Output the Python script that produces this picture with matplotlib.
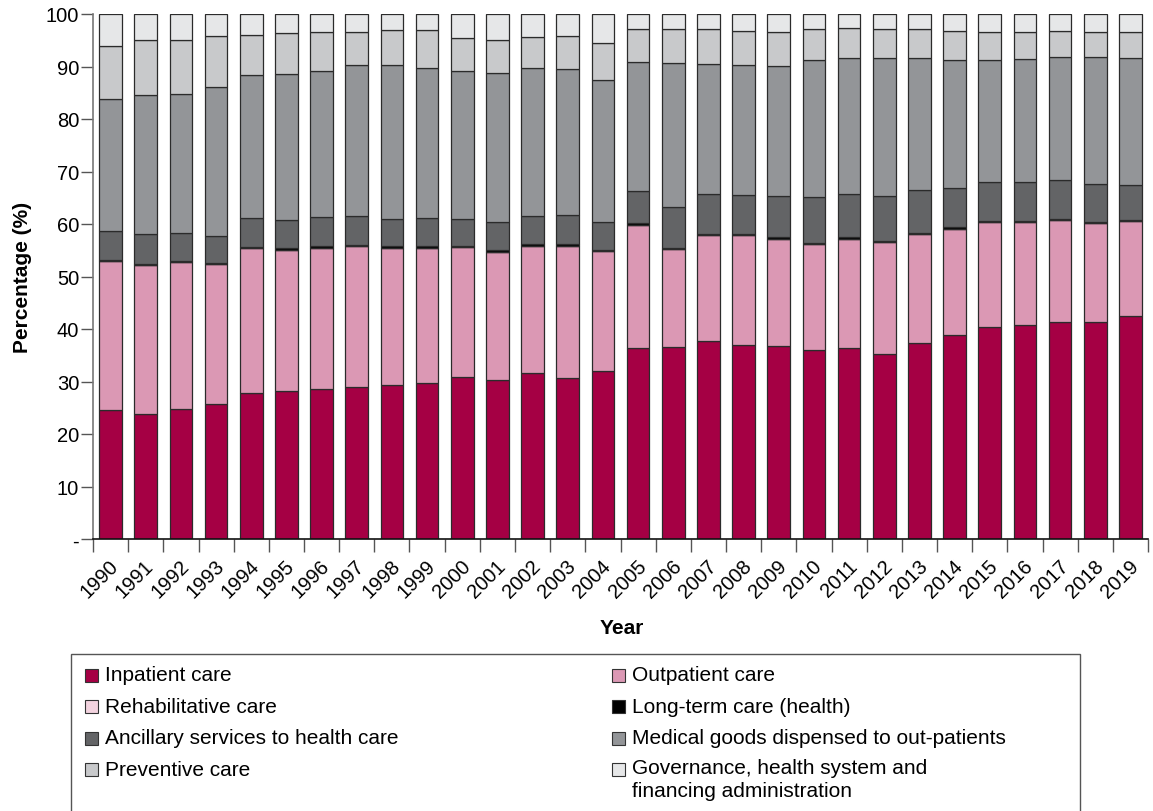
import numpy as np
import matplotlib
matplotlib.use("Agg")
import matplotlib.pyplot as plt
import matplotlib.transforms as mtransforms
from matplotlib.patches import Rectangle
from matplotlib.ticker import FixedLocator, NullFormatter

plt.rcParams['font.family'] = ['Liberation Sans', 'DejaVu Sans']

years = [str(y) for y in range(1990, 2020)]

inpatient = [24.5, 23.8, 24.8, 25.8, 27.9, 28.1, 28.5, 29.0, 29.4, 29.7,
             30.9, 30.3, 31.7, 30.7, 32.0, 36.4, 36.5, 37.7, 36.9, 36.8,
             36.0, 36.4, 35.3, 37.3, 38.9, 40.4, 40.7, 41.3, 41.3, 42.5]
outpatient = [28.5, 28.4, 28.0, 26.6, 27.6, 27.0, 27.0, 26.8, 26.0, 25.7,
              24.8, 24.4, 24.1, 25.2, 22.8, 23.5, 18.8, 20.2, 21.0, 20.4,
              20.2, 20.8, 21.2, 20.8, 20.2, 20.0, 19.7, 19.4, 18.9, 18.1]
rehab = [0.0] * 30
longterm = [0.2, 0.2, 0.2, 0.2, 0.2, 0.3, 0.3, 0.2, 0.4, 0.4,
            0.2, 0.4, 0.3, 0.3, 0.3, 0.2, 0.2, 0.2, 0.2, 0.3,
            0.2, 0.3, 0.2, 0.2, 0.3, 0.2, 0.2, 0.2, 0.2, 0.1]
ancillary = [5.5, 5.7, 5.3, 5.1, 5.4, 5.3, 5.5, 5.5, 5.1, 5.3,
             5.0, 5.2, 5.4, 5.5, 5.3, 6.1, 7.7, 7.6, 7.4, 7.8,
             8.7, 8.3, 8.6, 8.1, 7.5, 7.4, 7.4, 7.4, 7.2, 6.7]
medical = [25.2, 26.5, 26.5, 28.4, 27.3, 27.9, 27.9, 28.8, 29.4, 28.6,
           28.2, 28.4, 28.2, 27.9, 27.1, 24.6, 27.5, 24.8, 24.7, 24.8,
           26.1, 25.8, 26.3, 25.3, 24.3, 23.2, 23.4, 23.5, 24.2, 24.3]
preventive = [10.1, 10.4, 10.2, 9.8, 7.6, 7.7, 7.3, 6.3, 6.6, 7.2,
              6.4, 6.4, 5.9, 6.3, 7.0, 6.3, 6.4, 6.7, 6.6, 6.5,
              6.0, 5.8, 5.5, 5.4, 5.6, 5.3, 5.1, 4.9, 4.8, 4.8]
governance = [6.0, 5.0, 5.0, 4.1, 4.0, 3.7, 3.5, 3.4, 3.1, 3.1,
              4.5, 4.9, 4.4, 4.1, 5.5, 2.9, 2.9, 2.8, 3.2, 3.4,
              2.8, 2.6, 2.9, 2.9, 3.2, 3.5, 3.5, 3.3, 3.4, 3.5]

labels = ['Inpatient care', 'Outpatient care', 'Rehabilitative care',
          'Long-term care (health)', 'Ancillary services to health care',
          'Medical goods dispensed to out-patients', 'Preventive care',
          'Governance, health system and\nfinancing administration']
colors = ['#A50044', '#DB98B4', '#F3D3DF', '#000000', '#636466',
          '#939598', '#C8C9CB', '#E6E7E8']
series = [inpatient, outpatient, rehab, longterm, ancillary,
          medical, preventive, governance]

fig = plt.figure(figsize=(11.53, 8.12), dpi=100)
W, H = 1153, 812
ax = fig.add_axes([93 / W, 1 - 540 / H, (1148 - 93) / W, (540 - 15) / H])

x = np.arange(len(years))
bottom = np.zeros(len(years))
for vals, col in zip(series, colors):
    ax.bar(x, vals, width=0.64, bottom=bottom, color=col,
           edgecolor='#2b2b2b', linewidth=0.9, zorder=2)
    bottom += np.array(vals)

ax.set_xlim(-0.5, len(years) - 0.5)
ax.set_ylim(0, 100)

# y axis
ax.set_yticks(np.arange(0, 101, 10))
ax.set_yticklabels(['-'] + [str(v) for v in range(10, 101, 10)], fontsize=14.5)
ax.tick_params(axis='y', length=9, width=1, color='#555555', pad=1)

# x axis: ticks between bars, labels under bar centres
ax.set_xticks(x)
ax.set_xticklabels(years, fontsize=14.5, rotation=45, ha='right',
                   va='center', rotation_mode='anchor')
ax.tick_params(axis='x', which='major', length=0, pad=17)
ax.xaxis.set_minor_locator(FixedLocator(np.arange(-0.5, len(years), 1.0)))
ax.xaxis.set_minor_formatter(NullFormatter())
ax.tick_params(axis='x', which='minor', length=9, width=1, color='#555555')
shift = mtransforms.ScaledTranslation(5 / 100, 0, fig.dpi_scale_trans)
for lab in ax.get_xticklabels():
    lab.set_transform(lab.get_transform() + shift)

ax.spines['top'].set_visible(False)
ax.spines['right'].set_visible(False)
ax.spines['left'].set_color('#777777')
ax.spines['left'].set_linewidth(1.2)
ax.spines['bottom'].set_color('#111111')
ax.spines['bottom'].set_linewidth(1.2)

ax.set_ylabel('Percentage (%)', fontsize=15, fontweight='bold')
ax.yaxis.set_label_coords(-61 / (1148 - 93), 0.5)
fig.text(622 / W, 1 - 628 / H, 'Year', fontsize=15, fontweight='bold',
         ha='center', va='center')

# legend box drawn by hand, two columns
fig.patches.append(Rectangle((71 / W, -0.01), (1080 - 71) / W, 1 - 655 / H + 0.01,
                             transform=fig.transFigure, fill=False,
                             edgecolor='#555555', linewidth=1.0))
col_x = [85, 612]
row_y = [676, 707.5, 739, 770.5]
order = [0, 2, 4, 6, 1, 3, 5, 7]
for k, idx in enumerate(order):
    cx = col_x[k // 4]
    cy = row_y[k % 4]
    fig.patches.append(Rectangle((cx / W, 1 - (cy + 6.5) / H), 13 / W, 13 / H,
                                 transform=fig.transFigure,
                                 facecolor=colors[idx], edgecolor='#333333',
                                 linewidth=0.8))
    if '\n' in labels[idx]:
        fig.text((cx + 20) / W, 1 - (cy - 11) / H, labels[idx], fontsize=15,
                 ha='left', va='top', linespacing=1.25)
    else:
        fig.text((cx + 20) / W, 1 - cy / H, labels[idx], fontsize=15,
                 ha='left', va='center')

fig.savefig('out.png', dpi=100)
